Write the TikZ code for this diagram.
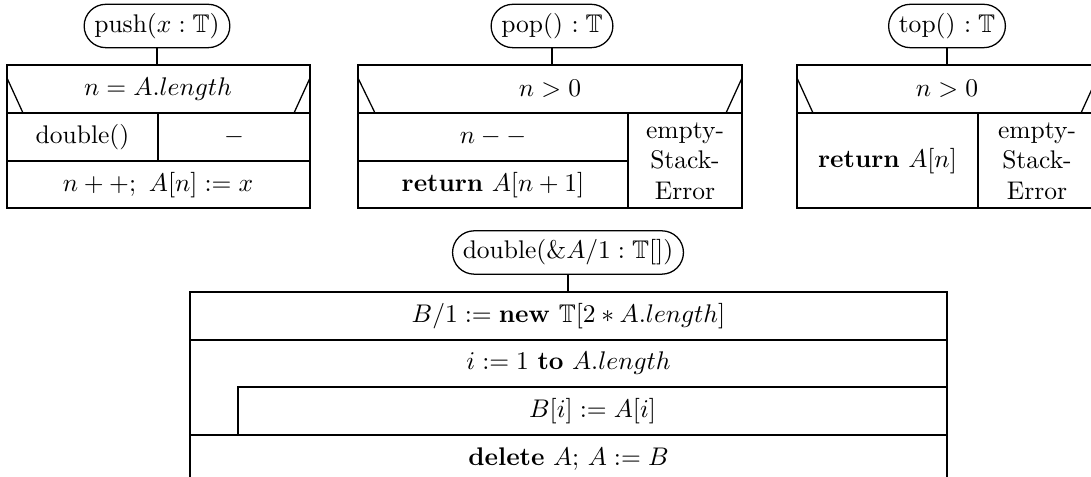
\documentclass[tikz,border=0pt]{standalone}
\usepackage{amssymb}
\tikzset{
  term/.style={draw, rounded corners=8.5pt, minimum height=17pt, inner xsep=4pt, inner ysep=0pt},
  txt/.style={inner sep=0pt, align=center}
}
\begin{document}
\begin{tikzpicture}[x=0.392pt,y=-0.392pt,line width=0.5pt]
\useasboundingbox (0,0) rectangle (1091,477);
\clip (0,0) rectangle (1091,477);

% ---------- push ----------
\node[term] (push) at (157,26) {push($x : \mathbb{T}$)};
\coordinate (pushtop) at (157,65);
\draw (push.south) -- (pushtop);
\draw (7,65) rectangle (310,208);
\draw (7,113) -- (310,113) (7,161) -- (310,161) (158,113) -- (158,161);
\draw (7,78) -- (23,113) (310,78) -- (294,113);
\node[txt] (pushcond) at (158,89) {$n = A.length$};
\node[txt] (pushyes) at (82.5,137) {double()};
\node[txt] (pushno) at (234,137) {$-$};
\node[txt] (pushlast) at (158,185) {$n++;\ A[n] := x$};

% ---------- pop ----------
\node[term] (pop) at (552,26) {pop() $: \mathbb{T}$};
\coordinate (poptop) at (552,65);
\draw (pop.south) -- (poptop);
\draw (358,65) rectangle (742,208);
\draw (358,113) -- (742,113) (358,161) -- (628,161) (628,113) -- (628,208);
\draw (358,78) -- (375,113) (742,78) -- (726,113);
\node[txt] (popcond) at (550,89) {$n > 0$};
\node[txt] (popdec) at (493,137) {$n--$};
\node[txt] (popret) at (493,185) {\textbf{return} $A[n+1]$};
\node[txt] (poperr) at (685,161) {empty-\\Stack-\\Error};

% ---------- top ----------
\node[term] (top) at (947,26) {top() $: \mathbb{T}$};
\coordinate (toptop) at (947,65);
\draw (top.south) -- (toptop);
\draw (797,65) rectangle (1097,208);
\draw (797,113) -- (1097,113) (978,113) -- (978,208);
\draw (797,78) -- (813,113) (1097,78) -- (1081,113);
\node[txt] (topcond) at (947,89) {$n > 0$};
\node[txt] (topret) at (887.5,161) {\textbf{return} $A[n]$};
\node[txt] (toperr) at (1037,161) {empty-\\Stack-\\Error};

% ---------- double ----------
\node[term] (dbl) at (568,252.5) {double($\&A/1 : \mathbb{T}[]$)};
\coordinate (dbltop) at (568,292);
\draw (dbl.south) -- (dbltop);
\draw (190,292) rectangle (947,483);
\draw (190,340) -- (947,340) (190,435) -- (947,435);
\draw (238,435) -- (238,387) -- (947,387);
\node[txt] (dblnew) at (568.5,316) {$B/1 := \mathbf{new}\ \mathbb{T}[2*A.length]$};
\node[txt] (dblfor) at (568.5,363.5) {$i := 1$ \textbf{to} $A.length$};
\node[txt] (dblbody) at (592.5,411) {$B[i] := A[i]$};
\node[txt] (dbldel) at (568.5,459) {\textbf{delete} $A$;\ $A := B$};
\end{tikzpicture}
\end{document}
